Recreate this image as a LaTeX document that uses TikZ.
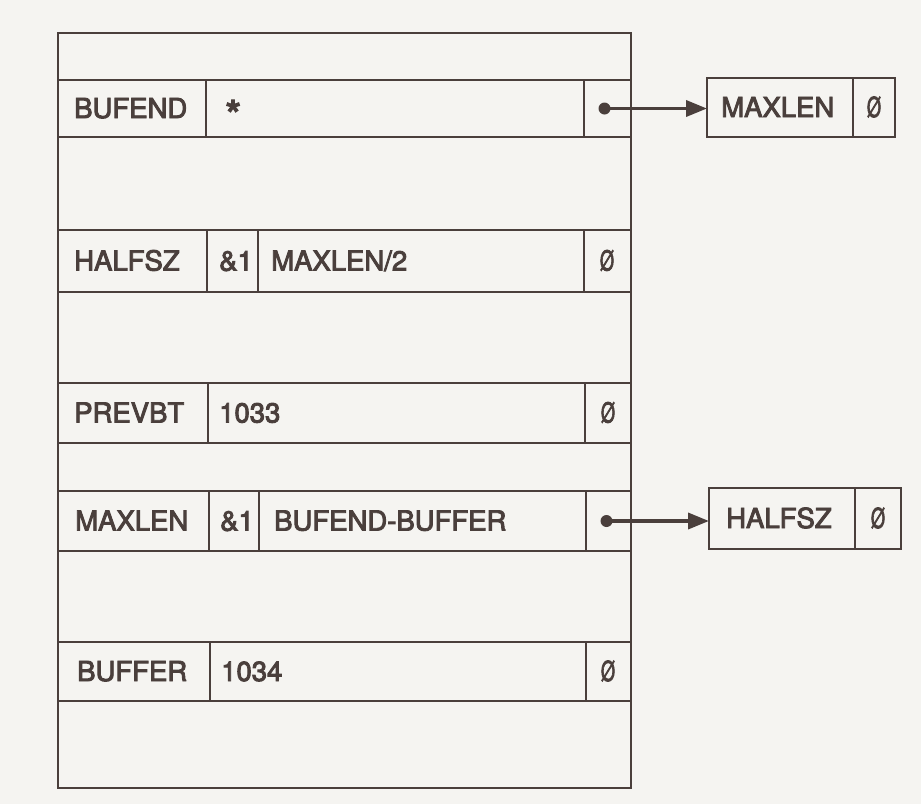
\documentclass[tikz,border=0pt]{standalone}
\usepackage{fontspec}
\setmainfont{TeX Gyre Heros}
\usetikzlibrary{arrows.meta}
\definecolor{ink}{HTML}{4A3F3C}
\definecolor{paper}{HTML}{F5F4F1}
\newcommand\nz{\scalebox{0.66}[1]{Ø}}
\newcommand\thick[1]{\special{pdf:literal direct 2 Tr 0.9 w}#1\special{pdf:literal direct 0 Tr}}
\begin{document}
\begin{tikzpicture}[x=1pt,y=-1pt,
  box/.style={draw=ink,line width=2.7pt,inner sep=0pt,outer sep=0pt,anchor=north west},
  lbl/.style={text=ink,font=\fontsize{27.5}{30}\selectfont,inner sep=0pt,anchor=base west},
  nul/.style={text=ink,font=\fontsize{27.5}{30}\selectfont,inner sep=0pt,anchor=base},
  ptr/.style={draw=ink,line width=3.6pt,-{Triangle[length=21pt,width=16pt]}}]
\fill[paper] (0,0) rectangle (921,804);
\useasboundingbox (0,0) rectangle (921,804);
% outer frame
\node[box,minimum width=573pt,minimum height=755pt] (outer) at (58,33) {};
% row 1: BUFEND
\node[box,minimum width=573pt,minimum height=57pt] (r1) at (58,80) {};
\node[box,minimum width=148pt,minimum height=57pt] (r1a) at (58,80) {};
\node[box,minimum width=47pt,minimum height=57pt] (r1p) at (584,80) {};
\node[lbl] (t1a) at (74,118) {\thick{BUFEND}};
\node[lbl] (t1b) at (225,130) {\scalebox{1.5}{\thick{*}}};
% row 2: HALFSZ
\node[box,minimum width=573pt,minimum height=62pt] (r2) at (58,230) {};
\node[box,minimum width=149pt,minimum height=62pt] (r2a) at (58,230) {};
\node[box,minimum width=51pt,minimum height=62pt] (r2b) at (207,230) {};
\node[box,minimum width=47pt,minimum height=62pt] (r2p) at (584,230) {};
\node[lbl] (t2a) at (74,270.5) {\thick{HALFSZ}};
\node[lbl] (t2b) at (219,270.5) {\thick{\&1}};
\node[lbl] (t2c) at (271,270.5) {\thick{MAXLEN/2}};
\node[nul] (t2d) at (607,270.5) {\thick{\nz}};
% row 3: PREVBT
\node[box,minimum width=573pt,minimum height=60pt] (r3) at (58,383) {};
\node[box,minimum width=150pt,minimum height=60pt] (r3a) at (58,383) {};
\node[box,minimum width=46pt,minimum height=60pt] (r3p) at (585,383) {};
\node[lbl] (t3a) at (74,422.5) {\thick{PREVBT}};
\node[lbl] (t3b) at (219,422.5) {\thick{1033}};
\node[nul] (t3d) at (608,422.5) {\thick{\nz}};
% row 4: MAXLEN
\node[box,minimum width=573pt,minimum height=60pt] (r4) at (58,491) {};
\node[box,minimum width=151pt,minimum height=60pt] (r4a) at (58,491) {};
\node[box,minimum width=50pt,minimum height=60pt] (r4b) at (209,491) {};
\node[box,minimum width=45pt,minimum height=60pt] (r4p) at (586,491) {};
\node[lbl] (t4a) at (75,530.5) {\thick{MAXLEN}};
\node[lbl] (t4b) at (220,530.5) {\thick{\&1}};
\node[lbl] (t4c) at (274,530.5) {\thick{BUFEND-BUFFER}};
% row 5: BUFFER
\node[box,minimum width=573pt,minimum height=59pt] (r5) at (58,642) {};
\node[box,minimum width=152pt,minimum height=59pt] (r5a) at (58,642) {};
\node[box,minimum width=45pt,minimum height=59pt] (r5p) at (586,642) {};
\node[lbl] (t5a) at (77,681) {\thick{BUFFER}};
\node[lbl] (t5b) at (221,681) {\thick{1034}};
\node[nul] (t5d) at (608,681) {\thick{\nz}};
% external boxes
\node[box,minimum width=188pt,minimum height=59pt] (m1) at (707,78) {};
\node[box,minimum width=42pt,minimum height=59pt] (m1z) at (853,78) {};
\node[lbl] (tm1) at (721,117) {\thick{MAXLEN}};
\node[nul] (tm1z) at (874,117) {\thick{\nz}};
\node[box,minimum width=192pt,minimum height=61pt] (h1) at (709,488) {};
\node[box,minimum width=46pt,minimum height=61pt] (h1z) at (855,488) {};
\node[lbl] (th1) at (726,528) {\thick{HALFSZ}};
\node[nul] (th1z) at (878,528) {\thick{\nz}};
% pointers
\fill[ink] ([xshift=-3pt]r1p.center) coordinate (d1) circle (6pt);
\draw[ptr] (d1) -- (d1 -| m1.west);
\fill[ink] ([xshift=-2pt]r4p.center) coordinate (d4) circle (6pt);
\draw[ptr] (d4) -- (d4 -| h1.west);
\end{tikzpicture}
\end{document}
